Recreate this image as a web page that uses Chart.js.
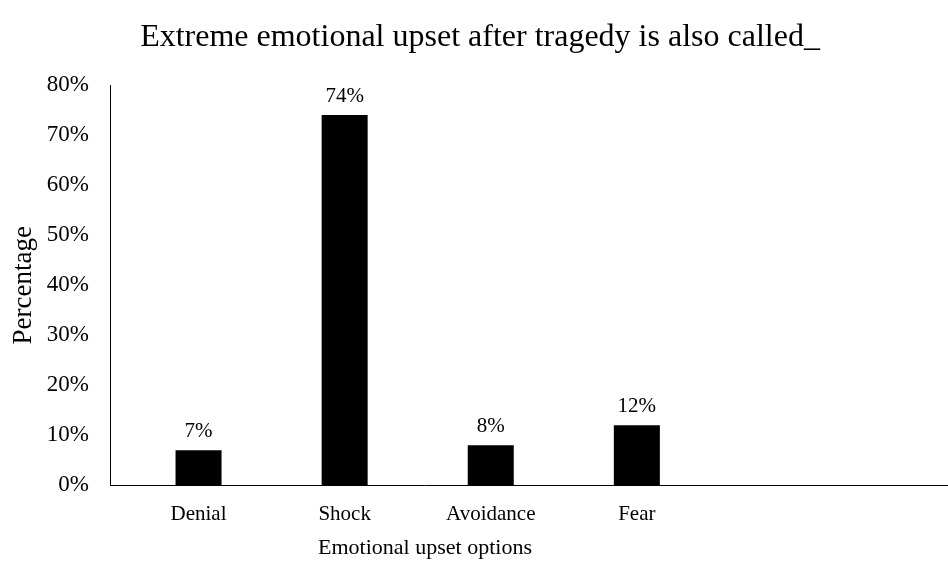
<!DOCTYPE html>
<html>
<head>
<meta charset="utf-8">
<script src="https://cdn.jsdelivr.net/npm/chart.js@4"></script>
<style>
  html, body { margin: 0; padding: 0; background: #fff; }
  #wrap { width: 948px; height: 565px; }
</style>
</head>
<body>
<div id="wrap"><canvas id="chart" width="948" height="565"></canvas></div>
<script>
// --- Data ---
const chartTitle = 'Extreme emotional upset after tragedy is also called_';
const categories = ['Denial', 'Shock', 'Avoidance', 'Fear'];
const percentages = [7, 74, 8, 12];
const yTicks = [0, 10, 20, 30, 40, 50, 60, 70, 80];

const serif = "'Liberation Serif', 'Times New Roman', serif";

// value labels above each bar
const barLabels = {
    id: 'barLabels',
    afterDatasetsDraw(chart) {
        const ctx = chart.ctx;
        const meta = chart.getDatasetMeta(0);
        ctx.save();
        ctx.font = '21px ' + serif;
        ctx.fillStyle = '#000';
        ctx.textAlign = 'center';
        ctx.textBaseline = 'alphabetic';
        meta.data.forEach((bar, i) => {
            ctx.fillText(percentages[i] + '%', bar.x, bar.y - 13);
        });
        ctx.restore();
    }
};

// title centred over the whole canvas, and the x axis line running on to the right edge
const frame = {
    id: 'frame',
    afterDraw(chart) {
        const ctx = chart.ctx;
        ctx.save();
        ctx.font = '32px ' + serif;
        ctx.fillStyle = '#000';
        ctx.textAlign = 'center';
        ctx.textBaseline = 'alphabetic';
        ctx.fillText(chartTitle, chart.width / 2 + 6, 46);

        const y = Math.round(chart.scales.y.getPixelForValue(0)) + 0.5;
        ctx.strokeStyle = '#000';
        ctx.lineWidth = 1;
        ctx.beginPath();
        ctx.moveTo(chart.chartArea.right - 1, y);
        ctx.lineTo(chart.width, y);
        ctx.stroke();
        ctx.restore();
    }
};

const ctx = document.getElementById('chart').getContext('2d');
new Chart(ctx, {
    type: 'bar',
    data: {
        datasets: [{
            data: percentages.map((v, i) => ({ x: i, y: v })),
            backgroundColor: '#000',
            borderWidth: 0,
            barPercentage: 0.315,
            categoryPercentage: 1
        }]
    },
    options: {
        responsive: false,
        animation: false,
        layout: { padding: { left: 0, right: 208, top: 85, bottom: 0 } },
        plugins: {
            legend: { display: false },
            tooltip: { enabled: false },
            title: { display: false }
        },
        scales: {
            x: {
                type: 'linear',
                offset: false,
                min: -0.606,
                max: 3.706,
                grid: { display: false },
                border: { display: true, color: '#000', width: 1 },
                afterBuildTicks: (scale) => {
                    scale.ticks = categories.map((c, i) => ({ value: i }));
                },
                ticks: {
                    color: '#000',
                    font: { family: serif, size: 21 },
                    padding: 8,
                    maxRotation: 0,
                    autoSkip: false,
                    callback: (v) => categories[v]
                },
                title: {
                    display: true,
                    text: 'Emotional upset options',
                    color: '#000',
                    font: { family: serif, size: 22 },
                    padding: { top: 0, bottom: 4 }
                }
            },
            y: {
                min: 0,
                max: 80,
                grid: { display: false },
                border: { display: true, color: '#000', width: 1 },
                afterBuildTicks: (scale) => {
                    scale.ticks = yTicks.map(v => ({ value: v }));
                },
                afterFit: (scale) => { scale.width = 110; },
                ticks: {
                    color: '#000',
                    font: { family: serif, size: 23 },
                    padding: 13,
                    callback: (v) => v + '%'
                },
                title: {
                    display: true,
                    text: 'Percentage',
                    color: '#000',
                    font: { family: serif, size: 27 },
                    padding: { top: 8, bottom: 0 }
                }
            }
        }
    },
    plugins: [barLabels, frame]
});
</script>
</body>
</html>
